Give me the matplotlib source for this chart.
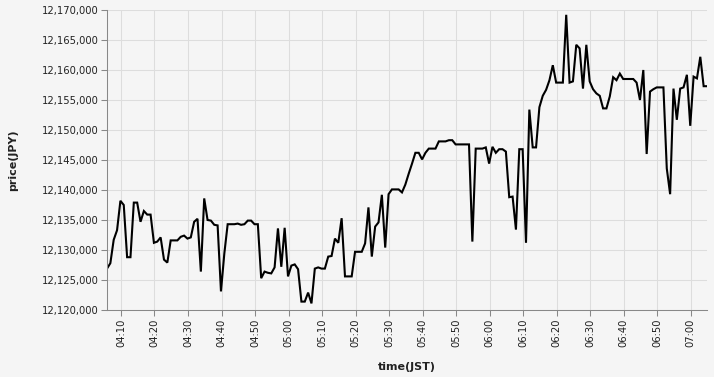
import numpy as np
import pandas as pd
import matplotlib
matplotlib.use("Agg")
import matplotlib.pyplot as plt
import matplotlib.dates as mdates
from matplotlib.ticker import FuncFormatter, MultipleLocator

# one sample per minute, JST
start_time = "2024-01-01 04:05:50"

prices = [
    12126900, 12127800, 12131700, 12133300, 12138200, 12137500, 12128800, 12128800,
    12137900, 12137900, 12134700, 12136500, 12135900, 12135900, 12131200, 12131400,
    12132100, 12128400, 12127900, 12131600, 12131600, 12131600, 12132200, 12132400,
    12131900, 12132100, 12134700, 12135200, 12126400, 12138600, 12135000, 12134900,
    12134200, 12134100, 12123100, 12129400, 12134300, 12134300, 12134300, 12134400,
    12134200, 12134300, 12134900, 12134900, 12134300, 12134300, 12125300, 12126400,
    12126200, 12126100, 12127100, 12133600, 12127200, 12133700, 12125600, 12127400,
    12127600, 12126800, 12121400, 12121400, 12122900, 12121100, 12126900, 12127100,
    12126900, 12126900, 12128900, 12129000, 12131900, 12131200, 12135300, 12125600,
    12125600, 12125600, 12129700, 12129700, 12129700, 12131100, 12137100, 12128900,
    12133900, 12134600, 12139200, 12130400, 12139300, 12140100, 12140100, 12140100,
    12139600, 12140900, 12142700, 12144400, 12146200, 12146200, 12145100, 12146200,
    12146900, 12146900, 12146900, 12148100, 12148100, 12148100, 12148300, 12148300,
    12147600, 12147600, 12147600, 12147600, 12147600, 12131400, 12146900, 12146900,
    12146900, 12147100, 12144400, 12147200, 12146200, 12146800, 12146800, 12146400,
    12138800, 12138900, 12133400, 12146800, 12146800, 12131200, 12153400, 12147100,
    12147100, 12153800, 12155700, 12156700, 12158300, 12160800, 12157900, 12157900,
    12157900, 12169200, 12157900, 12158100, 12164200, 12163600, 12156900, 12164200,
    12158100, 12156800, 12156100, 12155700, 12153600, 12153600, 12155600, 12158800,
    12158300, 12159400, 12158500, 12158500, 12158500, 12158500, 12157900, 12155000,
    12160000, 12146000, 12156400, 12156800, 12157100, 12157100, 12157100, 12143600,
    12139300, 12156900, 12151700, 12156900, 12157100, 12159200, 12150700, 12158900,
    12158600, 12162200, 12157300, 12157300,
]

times = pd.date_range(start_time, periods=len(prices), freq="1min")

bg = "#f5f5f5"
grid_col = "#dddddd"
axis_col = "#888888"

fig = plt.figure(figsize=(7.14, 3.77), dpi=100, facecolor=bg)
ax = fig.add_axes([107 / 714, 67 / 377, 600 / 714, 300 / 377])
ax.set_facecolor(bg)

ax.plot(times, prices, color="black", linewidth=1.5, solid_joinstyle="miter")

ax.set_xlim(times[0], times[-1])
ax.set_ylim(12120000, 12170000)

ax.yaxis.set_major_locator(MultipleLocator(5000))
ax.yaxis.set_major_formatter(FuncFormatter(lambda v, p: f"{int(v):,}"))
ax.xaxis.set_major_locator(mdates.MinuteLocator(byminute=range(0, 60, 10)))
ax.xaxis.set_major_formatter(mdates.DateFormatter("%H:%M"))

ax.grid(True, color=grid_col, linewidth=0.75)
ax.set_axisbelow(True)

for side in ["top", "right"]:
    ax.spines[side].set_visible(False)
for side in ["left", "bottom"]:
    ax.spines[side].set_color(axis_col)
    ax.spines[side].set_linewidth(0.75)

ax.tick_params(axis="both", colors=axis_col, length=4, width=0.75,
               labelsize=7.2, labelcolor="#222222", pad=2)
plt.setp(ax.get_xticklabels(), rotation=90, va="top", ha="center")

ax.set_xlabel("time(JST)", fontsize=8, fontweight="bold", color="#222222", labelpad=11)
ax.set_ylabel("price(JPY)", fontsize=8, fontweight="bold", color="#222222", labelpad=17)

fig.savefig("out.png", dpi=100, facecolor=bg)
